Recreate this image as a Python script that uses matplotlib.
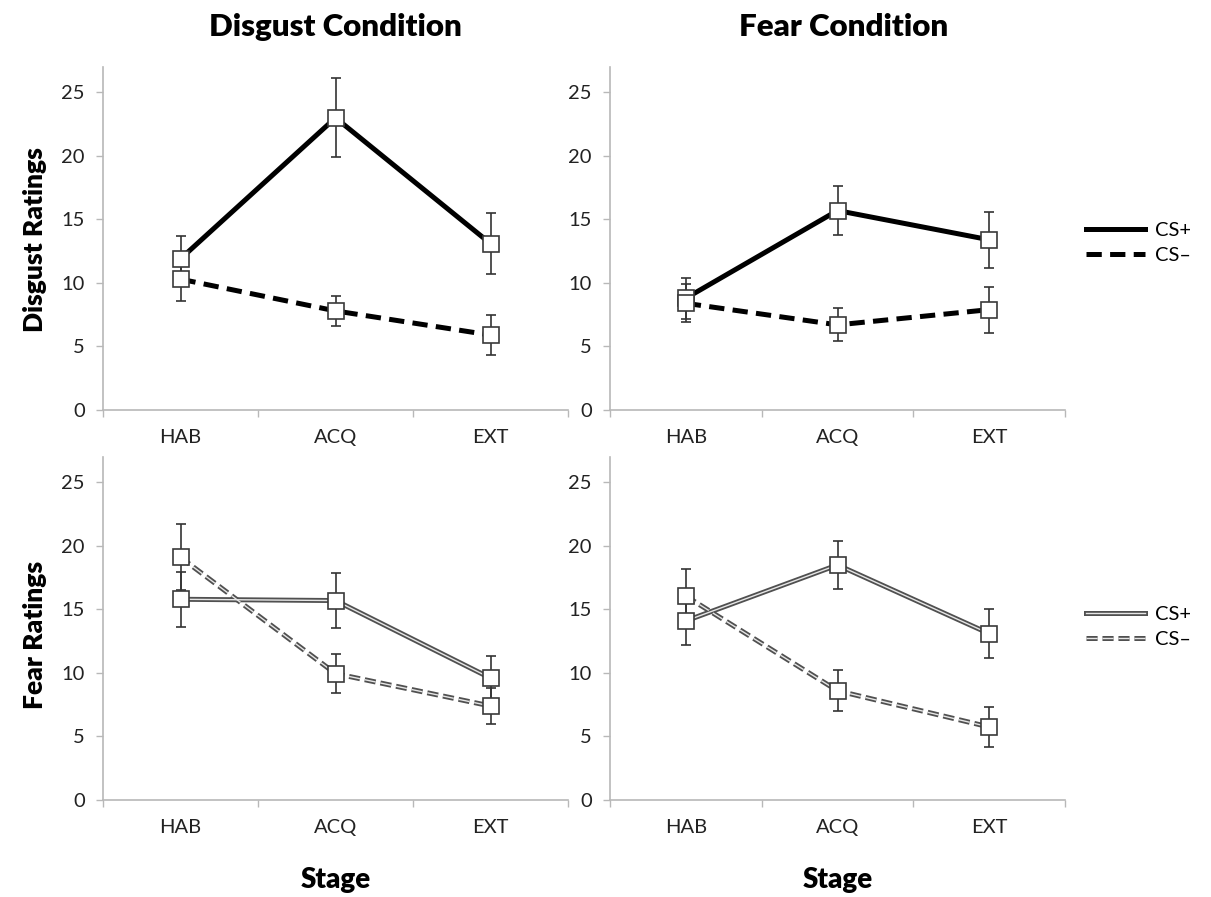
import matplotlib
matplotlib.use('Agg')
import matplotlib.pyplot as plt
from matplotlib.lines import Line2D

plt.rcParams['font.family'] = ['Lato', 'DejaVu Sans']
plt.rcParams['lines.scale_dashes'] = False

stages = ['HAB', 'ACQ', 'EXT']

# disgust ratings
dc_disgust_plus = [11.9, 23.0, 13.1]
dc_disgust_plus_err = [1.8, 3.1, 2.4]
dc_disgust_minus = [10.3, 7.8, 5.9]
dc_disgust_minus_err = [1.7, 1.2, 1.6]
fc_disgust_plus = [8.8, 15.7, 13.4]
fc_disgust_plus_err = [1.6, 1.9, 2.2]
fc_disgust_minus = [8.4, 6.7, 7.9]
fc_disgust_minus_err = [1.5, 1.3, 1.8]

# fear ratings
dc_fear_plus = [15.8, 15.7, 9.6]
dc_fear_plus_err = [2.15, 2.15, 1.75]
dc_fear_minus = [19.1, 9.95, 7.4]
dc_fear_minus_err = [2.6, 1.55, 1.4]
fc_fear_plus = [14.1, 18.5, 13.1]
fc_fear_plus_err = [1.9, 1.9, 1.95]
fc_fear_minus = [16.05, 8.6, 5.75]
fc_fear_minus_err = [2.15, 1.6, 1.6]

yticks = [0, 5, 10, 15, 20, 25]

AXIS_GREY = '#b8b8b8'
LINE_GREY = '#505050'
INNER = '#e6e6e6'
DASH = (0, (11, 6))
DASH2 = (0, (8, 3.5))


def draw_series(ax, vals, errs, style, double):
    x = range(len(vals))
    if double:
        ax.plot(x, vals, color=LINE_GREY, lw=3.6, ls=style, zorder=2)
        ax.plot(x, vals, color=INNER, lw=1.0, ls=style, zorder=2.1)
    else:
        ax.plot(x, vals, color='black', lw=3.6, ls=style, zorder=2)
    ax.errorbar(x, vals, yerr=errs, fmt='none', ecolor='#333333',
                elinewidth=1.2, capsize=3.5, capthick=1.2, zorder=3)
    ax.plot(x, vals, 's', ms=11, mfc='white', mec='#3a3a3a', mew=1.2,
            ls='none', zorder=4)


def style_axis(ax):
    ax.set_xlim(-0.5, 2.5)
    ax.set_ylim(0, 27)
    ax.set_yticks(yticks)
    ax.set_xticks(range(len(stages)))
    ax.set_xticklabels(stages)
    ax.set_xticks([-0.5, 0.5, 1.5, 2.5], minor=True)
    ax.tick_params(axis='x', which='major', length=0, pad=14,
                   labelsize=14.5, labelcolor='#222222')
    ax.tick_params(axis='x', which='minor', length=5, color=AXIS_GREY, width=1)
    ax.tick_params(axis='y', length=5, color=AXIS_GREY, width=1, pad=8,
                   labelsize=14.5, labelcolor='#222222')
    for s in ['top', 'right']:
        ax.spines[s].set_visible(False)
    for s in ['left', 'bottom']:
        ax.spines[s].set_color(AXIS_GREY)
        ax.spines[s].set_linewidth(1.2)


fig = plt.figure(figsize=(12.11, 8.97), dpi=100)
W, H = 1211.0, 897.0

ax_tl = fig.add_axes([103 / W, 487 / H, 465 / W, 343 / H])
ax_tr = fig.add_axes([610 / W, 487 / H, 455 / W, 343 / H])
ax_bl = fig.add_axes([103 / W, 97 / H, 465 / W, 343 / H])
ax_br = fig.add_axes([610 / W, 97 / H, 455 / W, 343 / H])

draw_series(ax_tl, dc_disgust_plus, dc_disgust_plus_err, '-', False)
draw_series(ax_tl, dc_disgust_minus, dc_disgust_minus_err, DASH, False)
draw_series(ax_tr, fc_disgust_plus, fc_disgust_plus_err, '-', False)
draw_series(ax_tr, fc_disgust_minus, fc_disgust_minus_err, DASH, False)

draw_series(ax_bl, dc_fear_plus, dc_fear_plus_err, '-', True)
draw_series(ax_bl, dc_fear_minus, dc_fear_minus_err, DASH2, True)
draw_series(ax_br, fc_fear_plus, fc_fear_plus_err, '-', True)
draw_series(ax_br, fc_fear_minus, fc_fear_minus_err, DASH2, True)

for ax in [ax_tl, ax_tr, ax_bl, ax_br]:
    style_axis(ax)

for ax in [ax_bl, ax_br]:
    ax.set_xlabel('Stage', fontsize=20, fontweight='heavy', labelpad=22)

fig.text(335 / W, 1 - 27 / H, 'Disgust Condition', fontsize=22.5,
         fontweight='heavy', ha='center', va='center')
fig.text(844 / W, 1 - 27 / H, 'Fear Condition', fontsize=22.5,
         fontweight='heavy', ha='center', va='center')
fig.text(35 / W, 1 - 240 / H, 'Disgust Ratings', fontsize=19,
         fontweight='heavy', rotation=90, ha='center', va='center')
fig.text(35 / W, 1 - 635 / H, 'Fear Ratings', fontsize=19,
         fontweight='heavy', rotation=90, ha='center', va='center')

# legends
top_handles = [Line2D([], [], color='black', lw=3.6),
               Line2D([], [], color='black', lw=3.6, ls=DASH)]
fig.legend(top_handles, ['CS+', 'CS\u2013'], loc='center left',
           bbox_to_anchor=(1068 / W, 1 - 243 / H), frameon=False,
           fontsize=14.5, handlelength=2.9, handletextpad=0.5, labelspacing=0.35)

bot_handles = [(Line2D([], [], color=LINE_GREY, lw=3.6),
                Line2D([], [], color=INNER, lw=1.0)),
               (Line2D([], [], color=LINE_GREY, lw=3.6, ls=DASH2),
                Line2D([], [], color=INNER, lw=1.0, ls=DASH2))]
fig.legend(bot_handles, ['CS+', 'CS\u2013'], loc='center left',
           bbox_to_anchor=(1068 / W, 1 - 627 / H), frameon=False,
           fontsize=14.5, handlelength=2.9, handletextpad=0.5, labelspacing=0.35)

fig.savefig('out.png', dpi=100)
